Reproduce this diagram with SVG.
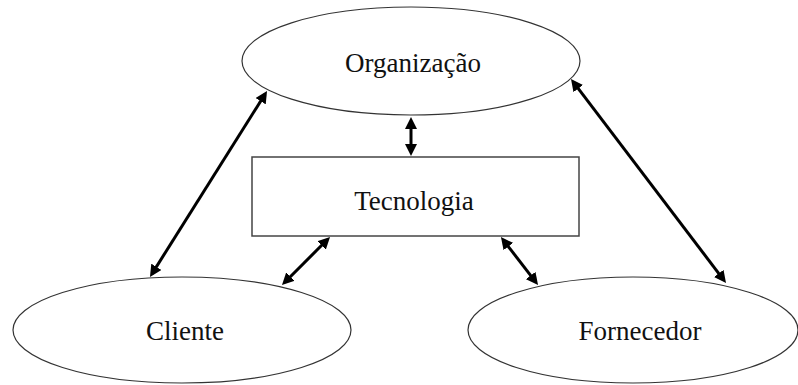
<svg xmlns="http://www.w3.org/2000/svg" width="798" height="385" viewBox="0 0 798 385">
<style>
.node{fill:#fff;stroke:#333;stroke-width:1.2}
.lbl{font-family:"Liberation Serif","Times New Roman",serif;font-size:27px;fill:#111;text-anchor:middle}
.conn{stroke:#000;stroke-width:3;fill:none;marker-start:url(#ah);marker-end:url(#ah)}
</style>
<defs>
<marker id="ah" markerUnits="userSpaceOnUse" markerWidth="14" markerHeight="12" viewBox="0 0 14 12" refX="8" refY="6" orient="auto-start-reverse">
<path d="M0,0 L12,6 L0,12 Z" fill="#000"/>
</marker>
</defs>
<rect width="798" height="385" fill="#fff"/>
<g id="organizacao">
<ellipse class="node" cx="411" cy="61" rx="169" ry="54"/>
<text class="lbl" x="413" y="72">Organização</text>
</g>
<g id="tecnologia">
<rect class="node" x="252" y="157" width="327" height="79" style="stroke:#444;stroke-width:1.5"/>
<text class="lbl" x="414" y="210">Tecnologia</text>
</g>
<g id="cliente">
<ellipse class="node" cx="182" cy="330" rx="169" ry="53"/>
<text class="lbl" x="185" y="340">Cliente</text>
</g>
<g id="fornecedor">
<ellipse class="node" cx="633" cy="330" rx="165" ry="53"/>
<text class="lbl" x="640" y="340">Fornecedor</text>
</g>
<g id="connectors">
<line class="conn" x1="264.9" y1="94.4" x2="152.1" y2="273.6"/>
<line class="conn" x1="573.4" y1="82.2" x2="723.6" y2="279.8"/>
<line class="conn" x1="327.2" y1="239.8" x2="284.8" y2="282.2"/>
<line class="conn" x1="503.4" y1="240.2" x2="535.6" y2="281.8"/>
<line class="conn" x1="411" y1="121" x2="411" y2="152"/>
</g>
</svg>
